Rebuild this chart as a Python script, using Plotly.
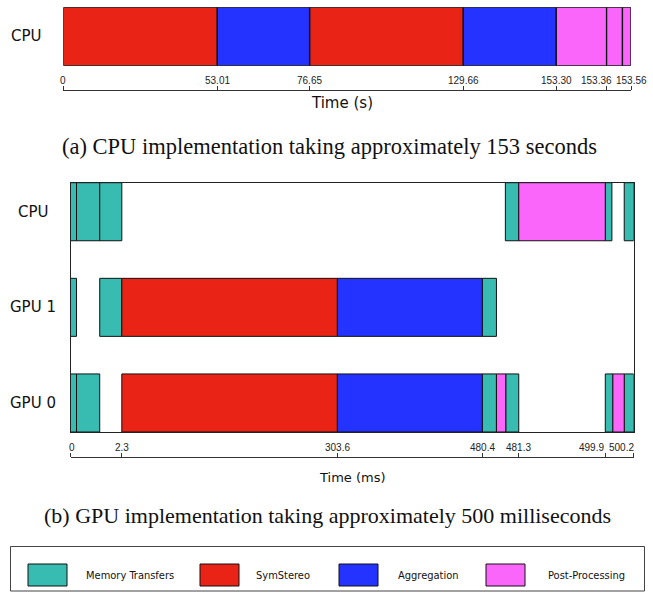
import numpy as np
import plotly.graph_objects as go

# ---------------- data ----------------
STAGES = ["Memory Transfers", "SymStereo", "Aggregation", "Post-Processing"]
STAGE_COLORS = ["#38BBB1", "#E92315", "#2433FF", "#FA66FA"]

# (a) CPU implementation, seconds
A_STAGE = ["SymStereo", "Aggregation", "SymStereo", "Aggregation",
           "Post-Processing", "Post-Processing", "Post-Processing"]
A_START = [0, 53.01, 76.65, 129.66, 153.30, 153.36, 153.49]
A_END = [53.01, 76.65, 129.66, 153.30, 153.36, 153.49, 153.56]
A_TICKS = [0, 53.01, 76.65, 129.66, 153.30, 153.36, 153.56]
A_TICK_LABELS = ["0", "53.01", "76.65", "129.66", "153.30", "153.36", "153.56"]

# (b) GPU implementation, milliseconds
B_DEVICES = ["CPU", "GPU 1", "GPU 0"]
B_DEVICE = ["CPU", "CPU", "CPU", "CPU", "CPU", "CPU", "CPU",
            "GPU 1", "GPU 1", "GPU 1", "GPU 1", "GPU 1",
            "GPU 0", "GPU 0", "GPU 0", "GPU 0", "GPU 0", "GPU 0", "GPU 0",
            "GPU 0", "GPU 0", "GPU 0"]
B_STAGE = ["Memory Transfers", "Memory Transfers", "Memory Transfers", "Memory Transfers",
           "Post-Processing", "Memory Transfers", "Memory Transfers",
           "Memory Transfers", "Memory Transfers", "SymStereo", "Aggregation", "Memory Transfers",
           "Memory Transfers", "Memory Transfers", "SymStereo", "Aggregation", "Memory Transfers",
           "Post-Processing", "Memory Transfers", "Memory Transfers", "Post-Processing",
           "Memory Transfers"]
B_START = [0, 0.27, 1.31, 480.97, 481.3, 499.9, 500.10,
           0, 1.31, 2.3, 303.6, 480.4,
           0, 0.27, 2.3, 303.6, 480.4, 480.75, 480.98, 499.9, 499.98, 500.10]
B_END = [0.27, 1.31, 2.3, 481.3, 499.9, 499.97, 500.2,
         0.27, 2.3, 303.6, 480.4, 480.75,
         0.27, 1.31, 303.6, 480.4, 480.75, 480.98, 481.3, 499.98, 500.10, 500.2]
B_TICKS = [0, 2.3, 303.6, 480.4, 481.3, 499.9, 500.2]
B_TICK_LABELS = ["0", "2.3", "303.6", "480.4", "481.3", "499.9", "500.2"]

CAPTION_A = "(a) CPU implementation taking approximately 153 seconds"
CAPTION_B = "(b) GPU implementation taking approximately 500 milliseconds"

# ---------------- layout helpers ----------------
W, H = 653, 598
def px(x):
    return x / W
def py(y):
    return 1 - y / H

# broken (piecewise) time axes: display offset of each tick along the axis
A_SCALE = [0, 154, 246.3, 400, 493, 543.3, 567.7]
B_SCALE = [0, 51.3, 266.8, 411.6, 448.1, 534.6, 563.0]
# nudges of crowded tick labels (pixels)
A_LABEL_NUDGE = [0, 0, 0, 0, 0, -10, 0]
B_LABEL_NUDGE = [1, 0, 0, 0, 0, -14, -12]

def amap(t):
    return np.interp(t, A_TICKS, A_SCALE)
def bmap(t):
    return np.interp(t, B_TICKS, B_SCALE)

color_of = dict(zip(STAGES, STAGE_COLORS))
OUTLINE = dict(color="#111111", width=1)

fig = go.Figure()

# (a) bars
for stage in STAGES:
    idx = [i for i, s in enumerate(A_STAGE) if s == stage]
    if not idx:
        continue
    s = amap(np.array([A_START[i] for i in idx]))
    e = amap(np.array([A_END[i] for i in idx]))
    fig.add_trace(go.Bar(orientation="h", y=[0] * len(idx), x=e - s, base=s,
                         width=1, marker=dict(color=color_of[stage],
                                              line=dict(color="#111111", width=1.3)),
                         xaxis="x", yaxis="y", showlegend=False, hoverinfo="skip"))

# (b) bars
ypos = {d: len(B_DEVICES) - 1 - i for i, d in enumerate(B_DEVICES)}
BAR_W = 0.607
for stage in STAGES:
    idx = [i for i, s in enumerate(B_STAGE) if s == stage]
    s = bmap(np.array([B_START[i] for i in idx]))
    e = bmap(np.array([B_END[i] for i in idx]))
    fig.add_trace(go.Bar(orientation="h", y=[ypos[B_DEVICE[i]] for i in idx], x=e - s, base=s,
                         width=BAR_W, marker=dict(color=color_of[stage], line=OUTLINE),
                         xaxis="x3", yaxis="y3", showlegend=False, hoverinfo="skip"))

# invisible carriers so the tick axes get drawn
fig.add_trace(go.Scatter(x=list(amap(np.array(A_TICKS))), y=[0] * len(A_TICKS), mode="markers",
                         marker=dict(opacity=0), xaxis="x2", yaxis="y",
                         showlegend=False, hoverinfo="skip"))
fig.add_trace(go.Scatter(x=list(bmap(np.array(B_TICKS))), y=[1] * len(B_TICKS), mode="markers",
                         marker=dict(opacity=0), xaxis="x4", yaxis="y3",
                         showlegend=False, hoverinfo="skip"))

TICKFONT = dict(family="Liberation Sans, Arial, sans-serif", size=10, color="#222222")
AXCOL = "#333333"
A_AXIS_Y, B_AXIS_Y = 90, 457

fig.update_layout(
    width=W, height=H, margin=dict(l=0, r=0, t=0, b=0, autoexpand=False),
    paper_bgcolor="white", plot_bgcolor="rgba(0,0,0,0)",
    barmode="overlay", showlegend=False,
    xaxis=dict(domain=[px(63.3), px(631)], range=[0, A_SCALE[-1]], visible=False,
               anchor="y", automargin=False),
    yaxis=dict(domain=[py(65.7), py(7.3)], range=[-0.5, 0.5], visible=False,
               anchor="x", automargin=False),
    xaxis2=dict(overlaying="x", anchor="free", position=py(A_AXIS_Y), side="top",
                range=[0, A_SCALE[-1]], tickvals=list(amap(np.array(A_TICKS))),
                showticklabels=False, ticks="outside", ticklen=4, tickcolor=AXCOL,
                showline=True, linecolor=AXCOL, linewidth=1, showgrid=False,
                zeroline=False, automargin=False),
    xaxis3=dict(domain=[px(70.5), px(633.7)], range=[0, B_SCALE[-1]], anchor="y3",
                showline=True, mirror=True, linecolor="#222222", linewidth=1,
                showticklabels=False, ticks="", showgrid=False, zeroline=False,
                automargin=False),
    yaxis3=dict(domain=[py(432), py(182.7)], range=[-BAR_W / 2, len(B_DEVICES) - 1 + BAR_W / 2],
                anchor="x3", showline=True, mirror=True, linecolor="#222222", linewidth=1,
                showticklabels=False, ticks="", showgrid=False, zeroline=False,
                automargin=False),
    xaxis4=dict(overlaying="x3", anchor="free", position=py(B_AXIS_Y), side="top",
                range=[0, B_SCALE[-1]], tickvals=list(bmap(np.array(B_TICKS))),
                showticklabels=False, ticks="outside", ticklen=4, tickcolor=AXCOL,
                showline=True, linecolor=AXCOL, linewidth=1, showgrid=False,
                zeroline=False, automargin=False),
)

ann = []
# tick labels
for t, lab, nd in zip(amap(np.array(A_TICKS)), A_TICK_LABELS, A_LABEL_NUDGE):
    ann.append(dict(text=lab, x=t, xref="x2", y=py(A_AXIS_Y - 10), yref="paper",
                    showarrow=False, xanchor="center", yanchor="middle", xshift=nd,
                    font=TICKFONT))
for t, lab, nd in zip(bmap(np.array(B_TICKS)), B_TICK_LABELS, B_LABEL_NUDGE):
    ann.append(dict(text=lab, x=t, xref="x4", y=py(B_AXIS_Y - 9), yref="paper",
                    showarrow=False, xanchor="center", yanchor="middle", xshift=nd,
                    font=TICKFONT))

LABELFONT = dict(family="DejaVu Sans, sans-serif", size=15, color="#111111")
ann.append(dict(text="CPU", x=px(26), y=0, xref="paper", yref="y", showarrow=False,
                xanchor="center", yanchor="middle", font=LABELFONT))
for d in B_DEVICES:
    ann.append(dict(text=d, x=px(33), y=ypos[d], xref="paper", yref="y3", showarrow=False,
                    xanchor="center", yanchor="middle", font=LABELFONT))
ann.append(dict(text="Time (s)", x=px(342), y=py(103), xref="paper", yref="paper",
                showarrow=False, xanchor="center", yanchor="middle",
                font=dict(family="DejaVu Sans, sans-serif", size=15, color="#111111")))
ann.append(dict(text="Time (ms)", x=px(352), y=py(477), xref="paper", yref="paper",
                showarrow=False, xanchor="center", yanchor="middle",
                font=dict(family="DejaVu Sans, sans-serif", size=13, color="#111111")))
ann.append(dict(text=CAPTION_A, x=px(329), y=py(146), xref="paper", yref="paper",
                showarrow=False, xanchor="center", yanchor="middle",
                font=dict(family="Liberation Serif, Times New Roman, serif", size=22.5, color="#111111")))
ann.append(dict(text=CAPTION_B, x=px(328), y=py(515), xref="paper", yref="paper",
                showarrow=False, xanchor="center", yanchor="middle",
                font=dict(family="Liberation Serif, Times New Roman, serif", size=22, color="#111111")))

# legend box
shapes = [dict(type="rect", xref="paper", yref="paper", x0=px(10.5), x1=px(644.5),
               y0=py(591), y1=py(546.5), line=dict(color="#444444", width=1),
               fillcolor="rgba(0,0,0,0)")]
SW_X = [28, 200, 339, 486]
TX_X = [84, 254, 396, 546]
LEGFONT = dict(family="DejaVu Sans Condensed, DejaVu Sans, sans-serif", size=11, color="#111111")
for i, st in enumerate(STAGES):
    shapes.append(dict(type="rect", xref="paper", yref="paper", x0=px(SW_X[i]), x1=px(SW_X[i] + 39),
                       y0=py(586), y1=py(564), fillcolor=color_of[st],
                       line=dict(color="#111111", width=1)))
    ann.append(dict(text=st, x=px(TX_X[i]), y=py(575), xref="paper", yref="paper",
                    showarrow=False, xanchor="left", yanchor="middle", font=LEGFONT))

fig.update_layout(annotations=ann, shapes=shapes)
fig.write_html("out.html")
